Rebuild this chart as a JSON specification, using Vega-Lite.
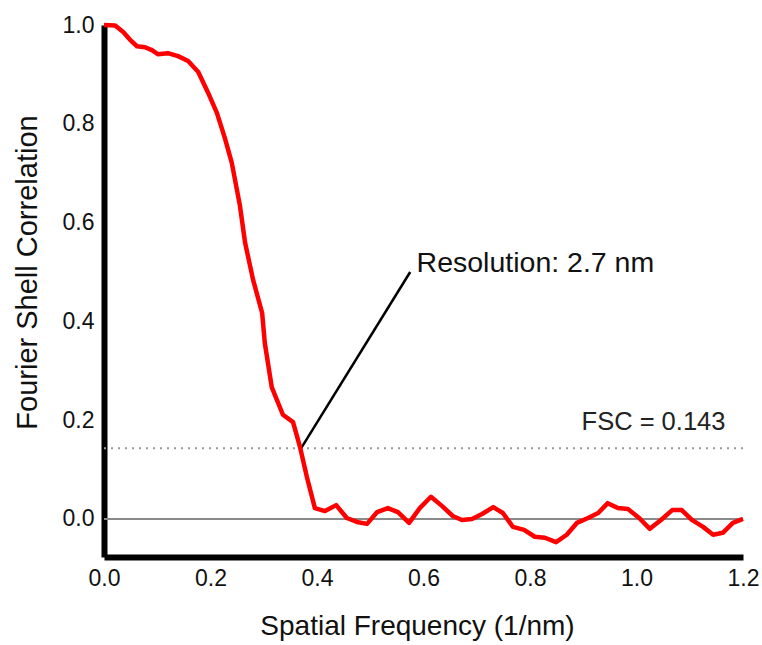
{
  "$schema": "https://vega.github.io/schema/vega-lite/v6.json",
  "width": 639,
  "height": 532,
  "autosize": {"type": "none"},
  "padding": {"left": 104, "top": 25, "right": 19, "bottom": 88},
  "background": "white",
  "config": {
    "view": {"stroke": null},
    "font": "Liberation Sans",
    "axis": {
      "grid": false,
      "ticks": false,
      "domainColor": "black",
      "domainWidth": 6,
      "labelFont": "Liberation Sans",
      "labelFontSize": 23,
      "labelColor": "#111",
      "labelFlush": false,
      "titleFont": "Liberation Sans",
      "titleFontSize": 28,
      "titleFontWeight": "normal",
      "titleColor": "#111"
    }
  },
  "datasets": {
    "fsc": [
      {"f": 0.000, "c": 1.000}, {"f": 0.021, "c": 0.999}, {"f": 0.036, "c": 0.986}, {"f": 0.049, "c": 0.970},
      {"f": 0.062, "c": 0.957}, {"f": 0.077, "c": 0.955}, {"f": 0.090, "c": 0.949}, {"f": 0.101, "c": 0.941},
      {"f": 0.120, "c": 0.943}, {"f": 0.139, "c": 0.937}, {"f": 0.158, "c": 0.927}, {"f": 0.177, "c": 0.905},
      {"f": 0.195, "c": 0.864}, {"f": 0.212, "c": 0.822}, {"f": 0.227, "c": 0.771}, {"f": 0.240, "c": 0.721},
      {"f": 0.255, "c": 0.636}, {"f": 0.265, "c": 0.559}, {"f": 0.280, "c": 0.484}, {"f": 0.297, "c": 0.417},
      {"f": 0.302, "c": 0.356}, {"f": 0.315, "c": 0.267}, {"f": 0.336, "c": 0.211}, {"f": 0.355, "c": 0.196},
      {"f": 0.368, "c": 0.146}, {"f": 0.381, "c": 0.085}, {"f": 0.396, "c": 0.022}, {"f": 0.415, "c": 0.016},
      {"f": 0.436, "c": 0.028}, {"f": 0.456, "c": 0.002}, {"f": 0.475, "c": -0.006}, {"f": 0.494, "c": -0.010},
      {"f": 0.513, "c": 0.014}, {"f": 0.533, "c": 0.022}, {"f": 0.552, "c": 0.014}, {"f": 0.573, "c": -0.008},
      {"f": 0.593, "c": 0.022}, {"f": 0.614, "c": 0.045}, {"f": 0.635, "c": 0.026}, {"f": 0.655, "c": 0.006},
      {"f": 0.672, "c": -0.002}, {"f": 0.691, "c": 0.000}, {"f": 0.710, "c": 0.010}, {"f": 0.731, "c": 0.024},
      {"f": 0.749, "c": 0.012}, {"f": 0.768, "c": -0.016}, {"f": 0.789, "c": -0.022}, {"f": 0.809, "c": -0.036},
      {"f": 0.828, "c": -0.038}, {"f": 0.849, "c": -0.047}, {"f": 0.869, "c": -0.032}, {"f": 0.888, "c": -0.008},
      {"f": 0.909, "c": 0.002}, {"f": 0.928, "c": 0.012}, {"f": 0.946, "c": 0.032}, {"f": 0.965, "c": 0.022},
      {"f": 0.984, "c": 0.020}, {"f": 1.005, "c": 0.002}, {"f": 1.025, "c": -0.020}, {"f": 1.046, "c": -0.002},
      {"f": 1.067, "c": 0.018}, {"f": 1.085, "c": 0.018}, {"f": 1.104, "c": -0.002}, {"f": 1.125, "c": -0.016},
      {"f": 1.144, "c": -0.032}, {"f": 1.162, "c": -0.028}, {"f": 1.181, "c": -0.008}, {"f": 1.200, "c": 0.000}
    ]
  },
  "layer": [
    {
      "data": {"values": [{"c": 0}]},
      "mark": {"type": "rule", "color": "#8a8a8a", "strokeWidth": 2},
      "encoding": {"y": {"field": "c", "type": "quantitative"}}
    },
    {
      "data": {"values": [{"c": 0.143}]},
      "mark": {"type": "rule", "color": "#999999", "strokeWidth": 2, "strokeDash": [2, 5]},
      "encoding": {"y": {"field": "c", "type": "quantitative"}}
    },
    {
      "data": {"values": [{"f": 0.37, "c": 0.143, "f2": 0.575, "c2": 0.5}]},
      "mark": {"type": "rule", "color": "black", "strokeWidth": 2.5},
      "encoding": {
        "x": {"field": "f", "type": "quantitative"},
        "y": {"field": "c", "type": "quantitative"},
        "x2": {"field": "f2"},
        "y2": {"field": "c2"}
      }
    },
    {
      "data": {"name": "fsc"},
      "mark": {"type": "line", "color": "#ff0000", "strokeWidth": 4.5, "strokeJoin": "round"},
      "encoding": {
        "x": {
          "field": "f", "type": "quantitative",
          "scale": {"domain": [0, 1.2], "nice": false, "zero": false},
          "axis": {"title": "Spatial Frequency (1/nm)", "values": [0, 0.2, 0.4, 0.6, 0.8, 1.0, 1.2], "format": ".1f", "labelPadding": 10, "titlePadding": 22, "titleX": 313}
        },
        "y": {
          "field": "c", "type": "quantitative",
          "scale": {"domain": [-0.077, 1.0], "nice": false, "zero": false},
          "axis": {"title": "Fourier Shell Correlation", "titleFontSize": 29, "values": [0, 0.2, 0.4, 0.6, 0.8, 1.0], "format": ".1f", "labelPadding": 10, "titlePadding": 20, "titleY": 247}
        }
      }
    },
    {
      "data": {"values": [{"f": 0.587, "c": 0.518, "t": "Resolution: 2.7 nm"}]},
      "mark": {"type": "text", "align": "left", "baseline": "middle", "fontSize": 28.5, "color": "#111", "font": "Liberation Sans"},
      "encoding": {
        "x": {"field": "f", "type": "quantitative"},
        "y": {"field": "c", "type": "quantitative"},
        "text": {"field": "t"}
      }
    },
    {
      "data": {"values": [{"f": 1.167, "c": 0.197, "t": "FSC = 0.143"}]},
      "mark": {"type": "text", "align": "right", "baseline": "middle", "fontSize": 25.5, "color": "#222", "font": "Liberation Sans"},
      "encoding": {
        "x": {"field": "f", "type": "quantitative"},
        "y": {"field": "c", "type": "quantitative"},
        "text": {"field": "t"}
      }
    }
  ]
}
